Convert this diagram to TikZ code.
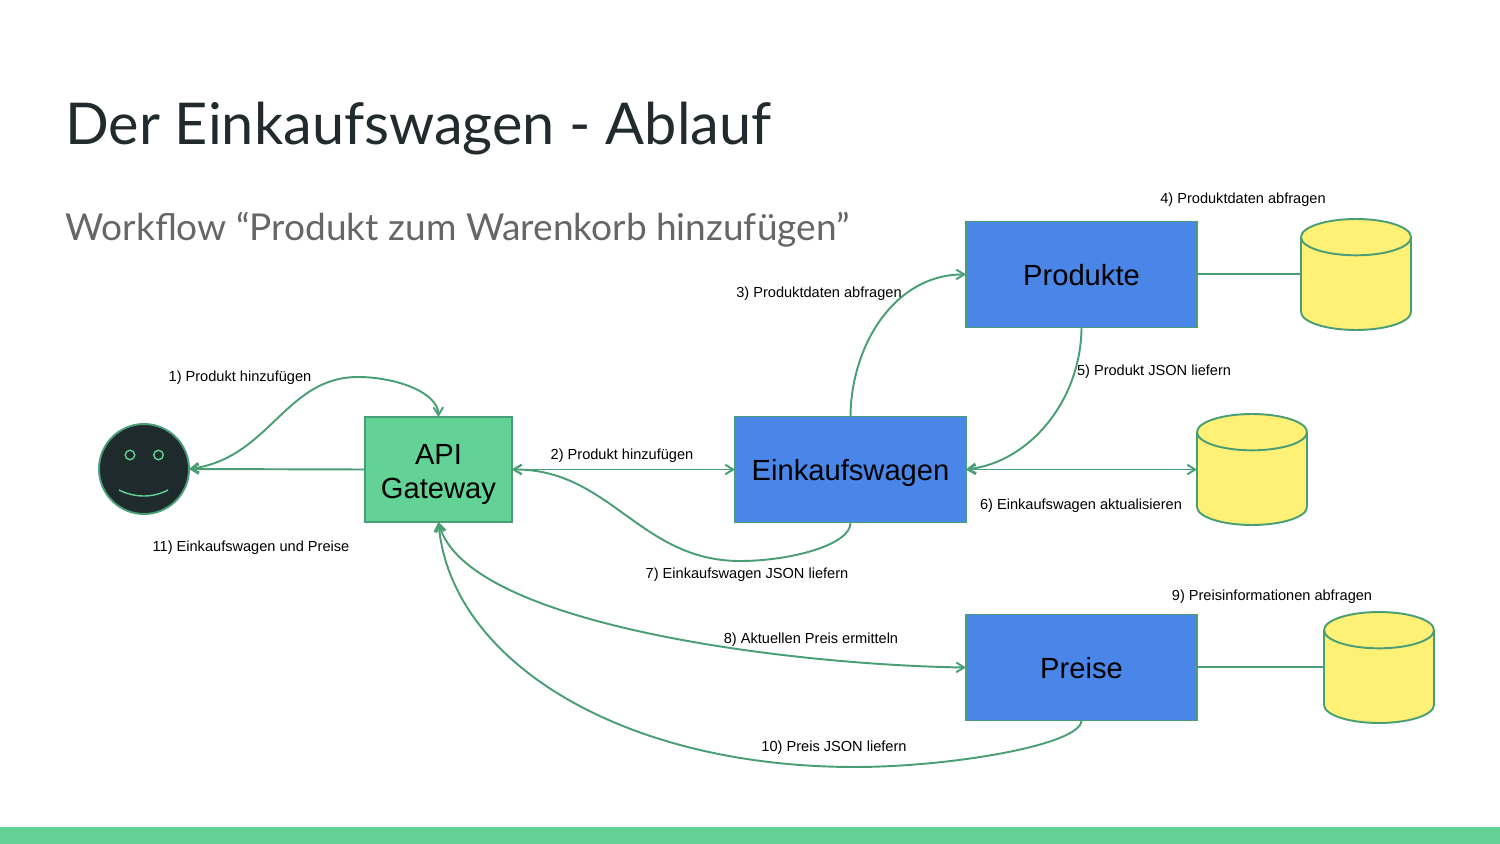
\documentclass[tikz,border=0pt]{standalone}
\usepackage{fontspec}
\setmainfont{Liberation Sans}
\newfontfamily\titlefont{Lato}
\usepackage{xcolor}
\usetikzlibrary{positioning,arrows.meta,shapes.geometric}
\definecolor{linegreen}{HTML}{4A9E75}
\definecolor{apigreen}{HTML}{63D297}
\definecolor{boxblue}{HTML}{4A86E8}
\definecolor{dbyellow}{HTML}{FFF176}
\definecolor{facedark}{HTML}{1F2A2C}
\definecolor{titledark}{HTML}{212B2D}
\begin{document}
\begin{tikzpicture}[
  x=0.02cm, y=-0.02cm, font=\fontsize{8.3pt}{10pt}\selectfont,
  >={Straight Barb[length=4.5pt,width=5.5pt]},
  service/.style={draw=linegreen, line width=1.1pt, fill=boxblue, outer sep=0pt,
                  minimum width=4.62cm, minimum height=2.12cm, align=center,
                  text height=12pt, text depth=0pt,
                  font=\fontsize{16.6pt}{20pt}\selectfont},
  gateway/.style={draw=linegreen, line width=1.1pt, fill=apigreen, outer sep=0pt,
                  minimum width=2.94cm, minimum height=2.1cm, align=center,
                  text height=36.5pt, text depth=3.5pt,
                  font=\fontsize{16.6pt}{20pt}\selectfont},
  store/.style={draw=linegreen, line width=1.1pt, cylinder, shape border rotate=90, aspect=3.1,
                cylinder uses custom fill, cylinder body fill=dbyellow, cylinder end fill=dbyellow,
                outer sep=0pt, anchor=shape center, minimum width=2.2cm, minimum height=2.22cm},
  eye/.style={circle, draw=apigreen, line width=0.8pt, minimum size=0.19cm, inner sep=0pt},
  arr/.style={->, line width=1.1pt, color=linegreen},
  twoway/.style={<->, line width=1.1pt, color=linegreen},
  link/.style={line width=1.1pt, color=linegreen},
  lbl/.style={inner sep=0pt, text=black},
]
\fill[apigreen] (0,827) rectangle (1500,844);
\useasboundingbox (0,0) rectangle (1500,844);

\node[anchor=west, inner sep=0pt, text=titledark, font=\titlefont\fontsize{32.8pt}{36pt}\selectfont] (title) at (65,129) {Der Einkaufswagen - Ablauf};
\node[anchor=west, inner sep=0pt, text=black!60, font=\titlefont\fontsize{21.1pt}{24pt}\selectfont] (subtitle) at (65,230) {Workflow “Produkt zum Warenkorb hinzufügen”};

\node[store] (dbprodukte) at (1356,274.5) {};
\node[store] (dbwagen)    at (1252,469.5) {};
\node[store] (dbpreise)   at (1379,667.5) {};

\draw[link] (1197,274) -- (dbprodukte.west |- 1197,274);
\draw[link] (1197,667) -- (dbpreise.west |- 1197,667);

\node[circle, draw=linegreen, line width=1.1pt, fill=facedark, minimum size=1.8cm, inner sep=0pt, outer sep=0pt] (face) at (144,469) {};
\node[eye] (eyeleft)  at (130,455) {};
\node[eye] (eyeright) at (158.5,455) {};
\draw[color=apigreen, line width=0.8pt] (119,490) .. controls (135,498) and (153,498) .. (168,490);

\node[gateway] (api) at (438.5,469.5) {API\\[-0.5pt]Gateway};
\node[service] (wagen)   at (850.5,469.5) {Einkaufswagen};
\node[service] (produkte) at (1081.5,274.5) {Produkte};
\node[service] (preise)  at (1081.5,667.5) {Preise};

\draw[arr] (api.west) -- (face.east);
\draw[twoway] (face.east) .. controls (270,458) and (285,377) .. (358,377) .. controls (395,377) and (438,392) .. (api.north);
\draw[twoway] (api.east) -- (wagen.west);
\draw[arr] (wagen.north) .. controls (851,345) and (895,274) .. (produkte.west);
\draw[arr] (produkte.south) .. controls (1081,400) and (1030,462) .. (wagen.east);
\draw[twoway] (wagen.east) -- (dbwagen.west |- wagen.east);
\draw[arr] (wagen.south) .. controls (851,545) and (790,561) .. (740,561) .. controls (640,561) and (610,469) .. (api.east);
\draw[twoway] (api.south) .. controls (465,625) and (790,665) .. (preise.west);
\draw[arr] (preise.south) .. controls (1081,745) and (950,767) .. (855,767) .. controls (620,767) and (450,660) .. (api.south);

\node[lbl] (lab1)  at (240,378) {1) Produkt hinzufügen};
\node[lbl] (lab2)  at (622,456) {2) Produkt hinzufügen};
\node[lbl] (lab3)  at (819,294) {3) Produktdaten abfragen};
\node[lbl] (lab4)  at (1243,200) {4) Produktdaten abfragen};
\node[lbl] (lab5)  at (1154,372) {5) Produkt JSON liefern};
\node[lbl] (lab6)  at (1081,506) {6) Einkaufswagen aktualisieren};
\node[lbl] (lab7)  at (747,575) {7) Einkaufswagen JSON liefern};
\node[lbl] (lab8)  at (811,640) {8) Aktuellen Preis ermitteln};
\node[lbl] (lab9)  at (1272,597) {9) Preisinformationen abfragen};
\node[lbl] (lab10) at (834,748) {10) Preis JSON liefern};
\node[lbl] (lab11) at (251,548) {11) Einkaufswagen und Preise};
\end{tikzpicture}
\end{document}
